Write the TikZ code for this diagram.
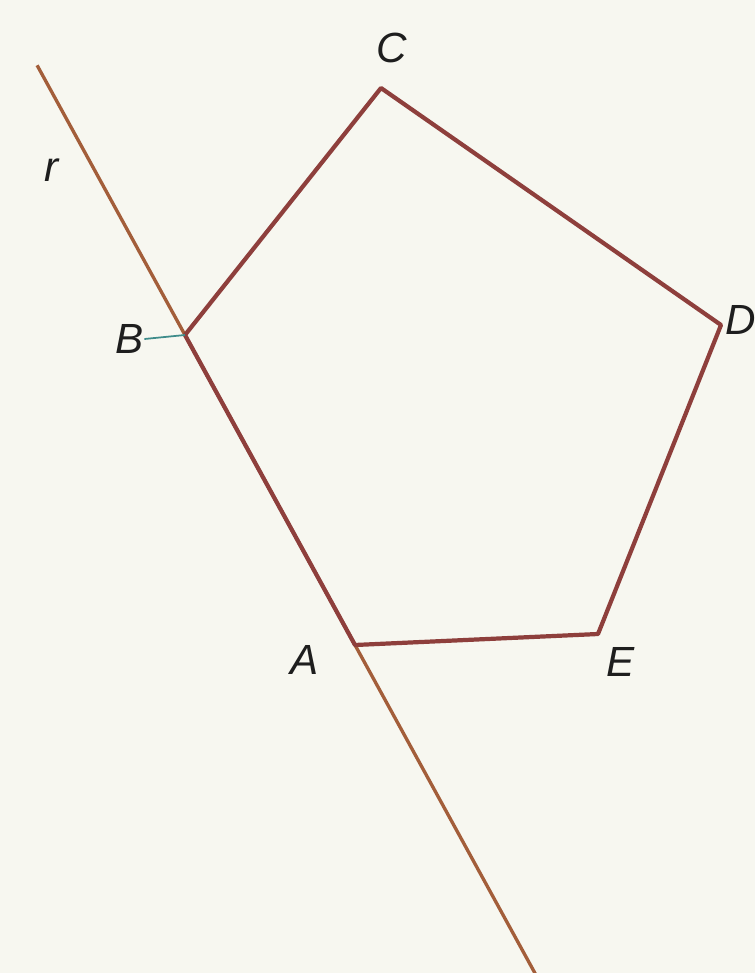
\documentclass[tikz,border=0pt]{standalone}
\usepackage{fontspec}
\setmainfont{Liberation Sans}
\usepackage{xcolor}
\usetikzlibrary{positioning,calc}
\definecolor{paper}{HTML}{F7F7F0}
\definecolor{edge}{HTML}{8E3F3C}
\definecolor{rline}{HTML}{A35E3A}
\definecolor{ink}{HTML}{1E1E1E}
\definecolor{tick}{HTML}{3E8C8A}

\begin{document}
\begin{tikzpicture}[x=0.2mm,y=-0.2mm,
  lbl/.style={font=\fontsize{24}{28}\selectfont\itshape,text=ink,inner sep=0pt},
  side/.style={draw=edge,line width=2.4pt,line join=round},
  rl/.style={draw=rline,line width=1.9pt}]
  \fill[paper] (0,0) rectangle (755,973);
  \useasboundingbox (0,0) rectangle (755,973);
  % vertices of the pentagon
  \coordinate (A) at (355,645);
  \coordinate (B) at (185,335);
  \coordinate (C) at (381,88);
  \coordinate (D) at (721,325);
  \coordinate (E) at (598,634);
  % the line r through B and A
  \coordinate (r1) at ($(B)!-0.87!(A)$);
  \coordinate (r2) at ($(B)!2.06!(A)$);
  \draw[rl] (r1) -- (r2);
  \draw[side] (A) -- (B) -- (C) -- (D) -- (E) -- cycle;
  % labels
  \node[lbl] (lr) at (52,170) {r};
  \node[lbl] (lB) at (130,339) {B};
  \node[lbl] (lC) at (392,48) {C};
  \node[lbl] (lD) at (741,320) {D};
  \node[lbl] (lA) at (305,660) {A};
  \node[lbl] (lE) at (621,662) {E};
  \draw[tick,line width=1pt] (lB.east) -- (B);
\end{tikzpicture}
\end{document}
